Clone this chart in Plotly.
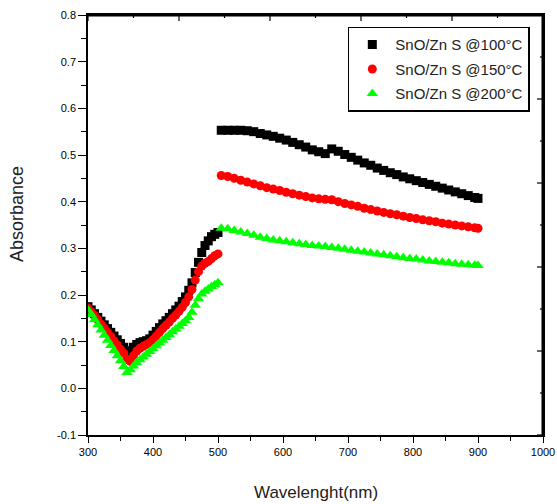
import plotly.graph_objects as go

# ---- data ----
x_left = [300, 305, 310, 315, 320, 325, 330, 335, 340, 345, 350, 355, 360, 365, 370, 375, 380,
          385, 390, 395, 400, 405, 410, 415, 420, 425, 430, 435, 440, 445, 450, 455, 460, 465,
          470, 475, 480, 485, 490, 495, 500]
x_right = [505, 515, 525, 535, 545, 555, 565, 575, 585, 595, 605, 615, 625, 635, 645, 655, 665,
           675, 685, 695, 705, 715, 725, 735, 745, 755, 765, 775, 785, 795, 805, 815, 825, 835,
           845, 855, 865, 875, 885, 895, 900]

abs100_left = [0.175, 0.168, 0.160, 0.152, 0.144, 0.136, 0.128, 0.120, 0.112, 0.104, 0.096, 0.088,
               0.080, 0.080, 0.088, 0.094, 0.098, 0.100, 0.102, 0.106, 0.114, 0.122, 0.130, 0.138,
               0.145, 0.152, 0.160, 0.168, 0.176, 0.186, 0.196, 0.210, 0.226, 0.248, 0.270, 0.291,
               0.306, 0.316, 0.325, 0.330, 0.334]
abs100_right = [0.553, 0.553, 0.553, 0.553, 0.552, 0.550, 0.546, 0.543, 0.540, 0.536, 0.532, 0.527,
                0.522, 0.517, 0.511, 0.507, 0.503, 0.513, 0.508, 0.501, 0.495, 0.489, 0.483, 0.478,
                0.472, 0.467, 0.462, 0.458, 0.453, 0.449, 0.445, 0.441, 0.437, 0.433, 0.429, 0.425,
                0.421, 0.417, 0.413, 0.409, 0.407]

abs150_left = [0.172, 0.164, 0.156, 0.147, 0.138, 0.129, 0.120, 0.111, 0.102, 0.093, 0.084, 0.075,
               0.062, 0.058, 0.070, 0.080, 0.086, 0.090, 0.094, 0.098, 0.104, 0.112, 0.120, 0.128,
               0.135, 0.142, 0.150, 0.157, 0.165, 0.174, 0.184, 0.196, 0.212, 0.232, 0.250, 0.262,
               0.268, 0.272, 0.278, 0.284, 0.288]
abs150_right = [0.456, 0.454, 0.450, 0.446, 0.442, 0.438, 0.434, 0.430, 0.427, 0.424, 0.420, 0.417,
                0.414, 0.411, 0.408, 0.406, 0.405, 0.404, 0.400, 0.396, 0.393, 0.390, 0.386, 0.383,
                0.380, 0.377, 0.374, 0.372, 0.369, 0.366, 0.364, 0.361, 0.359, 0.357, 0.354, 0.352,
                0.350, 0.348, 0.346, 0.344, 0.343]

abs200_left = [0.168, 0.158, 0.147, 0.136, 0.125, 0.114, 0.103, 0.092, 0.081, 0.070, 0.059, 0.047,
               0.034, 0.040, 0.048, 0.055, 0.061, 0.067, 0.073, 0.079, 0.085, 0.091, 0.097, 0.103,
               0.109, 0.115, 0.121, 0.127, 0.133, 0.139, 0.145, 0.152, 0.163, 0.178, 0.192, 0.202,
               0.208, 0.213, 0.218, 0.222, 0.226]
abs200_right = [0.343, 0.342, 0.338, 0.335, 0.332, 0.328, 0.324, 0.321, 0.318, 0.316, 0.314, 0.312,
                0.310, 0.308, 0.306, 0.305, 0.304, 0.302, 0.300, 0.298, 0.296, 0.294, 0.292, 0.290,
                0.288, 0.286, 0.284, 0.282, 0.280, 0.278, 0.277, 0.275, 0.273, 0.272, 0.270, 0.269,
                0.267, 0.266, 0.265, 0.264, 0.263]

names = ["SnO/Zn S @100°C", "SnO/Zn S @150°C", "SnO/Zn S @200°C"]
colors = ["#000000", "#ff0000", "#00ff00"]
symbols = ["square", "circle", "triangle-up"]
sizes = [9, 9, 10]

x_ticks = [300, 400, 500, 600, 700, 800, 900, 1000]
x_minor = [350, 450, 550, 650, 750, 850, 950]
y_ticks = [-0.1, 0.0, 0.1, 0.2, 0.3, 0.4, 0.5, 0.6, 0.7, 0.8]
y_ticktext = ["-0.1", "0.0", "0.1", "0.2", "0.3", "0.4", "0.5", "0.6", "0.7", "0.8"]
y_minor = [-0.05, 0.05, 0.15, 0.25, 0.35, 0.45, 0.55, 0.65, 0.75]

XR = [300, 1000]
YR = [-0.1, 0.8]

FONT = "Liberation Sans, Arial, sans-serif"
W, H = 557, 504
ML, MR, MT, MB = 88, 14, 15, 69
PW, PH = W - ML - MR, H - MT - MB  # plot area in px

fig = go.Figure()
series = [(abs100_left, abs100_right), (abs150_left, abs150_right), (abs200_left, abs200_right)]
for i, (yl, yr) in enumerate(series):
    fig.add_trace(go.Scatter(
        x=x_left + x_right, y=yl + yr, mode="markers", name=names[i],
        legendgroup=f"g{i}",
        marker=dict(symbol=symbols[i], size=sizes[i], color=colors[i], line=dict(width=0)),
    ))

# top and right frame edges (built from the axis ranges)
fig.add_trace(go.Scatter(
    x=[XR[0], XR[1], XR[1]], y=[YR[1], YR[1], YR[0]], mode="lines",
    line=dict(color="black", width=3), showlegend=False, hoverinfo="skip"))

# inward ticks along the top and right edges (10 divisions each)
dx_px = (XR[1] - XR[0]) / PW   # data units per pixel
dy_px = (YR[1] - YR[0]) / PH
tx, ty = [], []
for k in range(11):
    ln = 6 if k % 2 == 0 else 3
    xv = XR[0] + k * (XR[1] - XR[0]) / 10
    tx += [xv, xv, None]
    ty += [YR[1], YR[1] - ln * dy_px, None]
    yv = YR[0] + k * (YR[1] - YR[0]) / 10
    tx += [XR[1], XR[1] - ln * dx_px, None]
    ty += [yv, yv, None]
fig.add_trace(go.Scatter(x=tx, y=ty, mode="lines", line=dict(color="black", width=1.2),
                         showlegend=False, hoverinfo="skip"))

fig.update_layout(
    width=W, height=H,
    margin=dict(l=ML, r=MR, t=MT, b=MB),
    plot_bgcolor="white", paper_bgcolor="white",
    font=dict(family=FONT, color="black"),
    showlegend=True,
    legend=dict(x=0.571, y=0.972, xanchor="left", yanchor="top",
                bgcolor="white", bordercolor="black", borderwidth=1.5,
                font=dict(size=15, family=FONT, color="#222"),
                tracegroupgap=2, itemwidth=36),
    xaxis=dict(range=XR, tickvals=x_ticks, ticks="outside", ticklen=6,
               tickwidth=1.2, tickcolor="black", automargin=False,
               minor=dict(tickvals=x_minor, ticks="outside", ticklen=4, tickwidth=1.2,
                          tickcolor="black", showgrid=False),
               showline=True, linecolor="black", linewidth=1.5, mirror=True,
               showgrid=False, zeroline=False, tickfont=dict(size=11, family=FONT)),
    yaxis=dict(range=YR, tickvals=y_ticks, ticktext=y_ticktext, ticks="outside",
               ticklen=8, tickwidth=1.2, tickcolor="black", automargin=False,
               minor=dict(tickvals=y_minor, ticks="outside", ticklen=5, tickwidth=1.2,
                          tickcolor="black", showgrid=False),
               showline=True, linecolor="black", linewidth=1.5, mirror=True,
               showgrid=False, zeroline=False, tickfont=dict(size=11, family=FONT)),
    annotations=[
        dict(text="Wavelenght(nm)", xref="paper", yref="paper", x=0.5, y=-0.136,
             xanchor="center", yanchor="middle", showarrow=False,
             font=dict(size=17, family=FONT, color="#222")),
        dict(text="Absorbance", xref="paper", yref="paper", x=-0.156, y=0.526,
             xanchor="center", yanchor="middle", textangle=-90, showarrow=False,
             font=dict(size=18, family=FONT, color="#222")),
    ],
)

fig.write_html("out.html")
